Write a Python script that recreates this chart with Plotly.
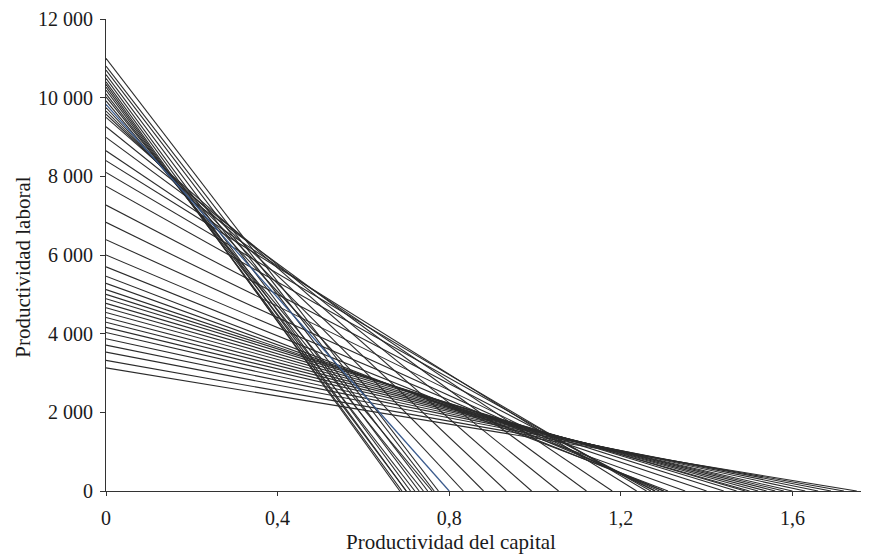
import plotly.graph_objects as go

# Y-intercepts (Productividad laboral) and X-intercepts (Productividad del capital) of each frontier line
prod_laboral = [3130, 3320, 3530, 3710, 3870, 4030, 4160, 4290, 4410, 4540, 4660, 4770, 4890, 5000, 5120, 5280,
                5460, 5700, 6000, 6390, 6830, 7270, 7750, 8100,
                8400, 8650, 8990, 9260, 9500, 9580, 9660, 9750,
                9830,
                9920, 10020, 10100, 10190, 10270, 10340, 10400, 10490, 10590, 10700, 10800, 11000]
prod_capital = [1.75, 1.72, 1.69, 1.66, 1.63, 1.60, 1.58, 1.56, 1.54, 1.52, 1.50, 1.49, 1.47, 1.44, 1.40, 1.35,
                1.31, 1.30, 1.30, 1.29, 1.28, 1.28, 1.27, 1.26,
                1.237, 1.18, 1.12, 1.055, 0.992, 0.933, 0.88, 0.833,
                0.80,
                0.76, 0.74, 0.72, 0.70, 0.69, 0.685, 0.70, 0.71, 0.73, 0.75, 0.765, 0.775]
highlight_index = 32  # line drawn in blue

x_tickvals = [0, 0.4, 0.8, 1.2, 1.6]
x_ticktext = ["0", "0,4", "0,8", "1,2", "1,6"]
y_tickvals = [0, 2000, 4000, 6000, 8000, 10000, 12000]
y_ticktext = ["0", "2 000", "4 000", "6 000", "8 000", "10 000", "12 000"]

fig = go.Figure()
for i, (a, b) in enumerate(zip(prod_laboral, prod_capital)):
    if i == highlight_index:
        continue
    fig.add_trace(go.Scatter(x=[0, b], y=[a, 0], mode="lines",
                             line=dict(color="#2b2b2b", width=1.1),
                             hoverinfo="skip", showlegend=False))
fig.add_trace(go.Scatter(x=[0, prod_capital[highlight_index]], y=[prod_laboral[highlight_index], 0],
                         mode="lines", line=dict(color="#3a5a8c", width=1.3),
                         hoverinfo="skip", showlegend=False))

family = "Liberation Serif, Times New Roman, serif"
tick_font = dict(family=family, size=20, color="#1a1a1a")
title_font = dict(family=family, size=21, color="#1a1a1a")

# The page body has an 8px margin, so the figure is sized/margined to compensate.
fig.update_layout(
    width=861, height=548,
    margin=dict(l=98, r=0, t=7, b=65),
    paper_bgcolor="white", plot_bgcolor="white",
    font=tick_font,
    showlegend=False,
    xaxis=dict(range=[0, 1.7786], tickvals=x_tickvals, ticktext=x_ticktext,
               showline=True, linecolor="#333333", linewidth=1.2,
               ticks="outside", ticklen=4, tickcolor="#333333", tickwidth=1,
               showgrid=False, zeroline=False, ticklabelstandoff=5,
               ticklabeloverflow="allow", tickfont=tick_font),
    yaxis=dict(range=[0, 12000], tickvals=y_tickvals, ticktext=y_ticktext,
               showline=True, linecolor="#333333", linewidth=1.2,
               ticks="outside", ticklen=5, tickcolor="#333333", tickwidth=1,
               showgrid=False, zeroline=False, ticklabelstandoff=3,
               ticklabeloverflow="allow", tickfont=tick_font),
    annotations=[
        dict(text="Productividad del capital", xref="paper", yref="paper",
             x=0.452, y=-0.109, xanchor="center", yanchor="middle",
             showarrow=False, font=title_font),
        dict(text="Productividad laboral", xref="paper", yref="paper",
             x=-0.1088, y=0.475, xanchor="center", yanchor="middle", textangle=-90,
             showarrow=False, font=title_font),
    ],
)

fig.write_html("out.html")
